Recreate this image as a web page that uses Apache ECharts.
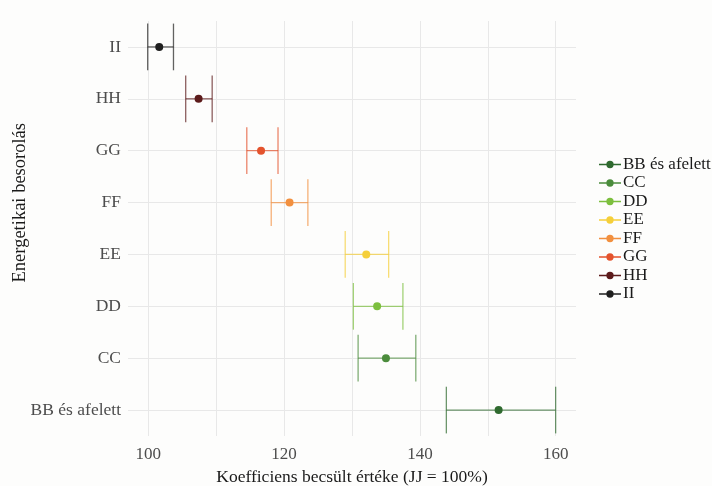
<!DOCTYPE html>
<html>
<head>
<meta charset="utf-8">
<script src="https://cdn.jsdelivr.net/npm/echarts@6/dist/echarts.min.js"></script>
<style>
  html, body { margin: 0; padding: 0; background: #fdfdfc; }
  #chart { width: 712px; height: 486px; }
</style>
</head>
<body>
<div id="chart"></div>
<script>
// categories bottom -> top
var categories = ['BB és afelett', 'CC', 'DD', 'EE', 'FF', 'GG', 'HH', 'II'];
var estimates = [151.6, 135.0, 133.7, 132.1, 120.8, 116.6, 107.4, 101.6];
var lowerCI = [143.9, 130.9, 130.2, 129.0, 118.1, 114.5, 105.5, 99.9];
var upperCI = [160.0, 139.4, 137.5, 135.4, 123.5, 119.1, 109.4, 103.7];
var colors = ['#2f6a2f', '#4b8c3c', '#7cbf3e', '#f5cf3a', '#f2903f', '#e4532d', '#5c1b1b', '#1f1f1f'];
var xTickLabels = [100, 120, 140, 160];
var xGridValues = [100, 110, 120, 130, 140, 150, 160];

var fontFam = 'Liberation Serif';

function renderErrorBar(params, api) {
    var idx = api.value(0);
    var lo = api.coord([api.value(1), idx]);
    var est = api.coord([api.value(2), idx]);
    var hi = api.coord([api.value(3), idx]);
    var band = api.size([0, 1])[1];
    var capH = band * 0.45;
    var col = api.visual('color');
    var barStyle = { stroke: col, lineWidth: 1.3, opacity: 0.7 };
    return {
        type: 'group',
        children: [
            { type: 'line', shape: { x1: lo[0], y1: lo[1], x2: hi[0], y2: hi[1] }, style: barStyle },
            { type: 'line', shape: { x1: lo[0], y1: lo[1] - capH, x2: lo[0], y2: lo[1] + capH }, style: barStyle },
            { type: 'line', shape: { x1: hi[0], y1: hi[1] - capH, x2: hi[0], y2: hi[1] + capH }, style: barStyle },
            { type: 'circle', shape: { cx: est[0], cy: est[1], r: 4 }, style: { fill: col } }
        ]
    };
}

var series = [];
categories.forEach(function (cat, i) {
    series.push({
        name: cat,
        type: 'custom',
        renderItem: renderErrorBar,
        itemStyle: { color: colors[i] },
        encode: { x: [1, 2, 3], y: 0 },
        data: [[i, lowerCI[i], estimates[i], upperCI[i]]],
        z: 5
    });
});

// grid lines (ggplot style: through category centres, every 10 on x)
series.push({
    name: 'gridlines',
    type: 'line',
    data: [],
    silent: true,
    z: 1,
    markLine: {
        silent: true,
        symbol: 'none',
        label: { show: false },
        lineStyle: { color: '#e8e8e8', width: 1, type: 'solid' },
        data: xGridValues.map(function (v) { return { xAxis: v }; })
            .concat(categories.map(function (c) { return { yAxis: c }; }))
    }
});

var chart = echarts.init(document.getElementById('chart'));
var option = {
    backgroundColor: '#fdfdfc',
    animation: false,
    grid: { left: 128, right: 136, top: 21, bottom: 50, outerBoundsMode: 'none' },
    xAxis: {
        type: 'value',
        min: 97,
        max: 163,
        name: 'Koefficiens becsült értéke (JJ = 100%)',
        nameLocation: 'middle',
        nameGap: 32,
        nameTextStyle: { fontFamily: fontFam, fontSize: 17.5, color: '#1a1a1a' },
        axisLine: { show: false },
        axisTick: { show: false },
        splitLine: { show: false },
        axisLabel: {
            customValues: xTickLabels,
            fontFamily: fontFam, fontSize: 17, color: '#4d4d4d', margin: 10
        }
    },
    yAxis: {
        type: 'category',
        data: categories,
        axisLine: { show: false },
        axisTick: { show: false },
        splitLine: { show: false },
        axisLabel: { fontFamily: fontFam, fontSize: 17.5, color: '#4d4d4d', margin: 7 }
    },
    legend: {
        orient: 'vertical',
        left: 594,
        top: 151,
        itemWidth: 22,
        itemHeight: 10,
        itemGap: 1.5,
        icon: 'path://M0,4.3h24v1.4h-24z M12,1a4,4 0 1,1 0,8a4,4 0 1,1 0,-8z',
        data: categories.slice(),
        textStyle: { fontFamily: fontFam, fontSize: 17, color: '#1a1a1a', lineHeight: 17, padding: [0, 0, 0, -3] }
    },
    graphic: [{
        type: 'text',
        left: 11,
        top: 123,
        rotation: Math.PI / 2,
        originX: 0,
        originY: 0,
        style: { text: 'Energetikai besorolás', font: '18.5px "Liberation Serif"', fill: '#1a1a1a' }
    }],
    series: series
};
chart.setOption(option);
</script>
</body>
</html>
